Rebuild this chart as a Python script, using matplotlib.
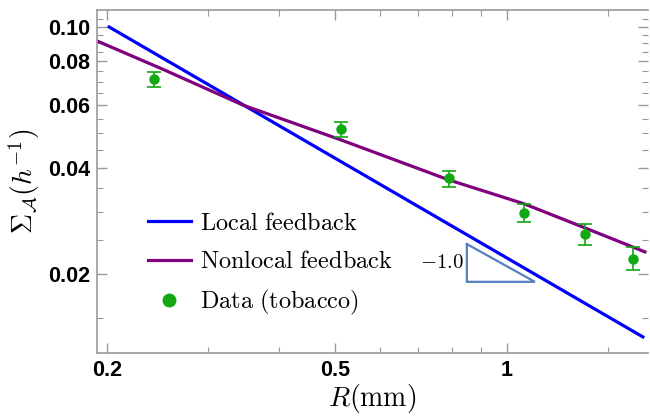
import matplotlib
matplotlib.use("Agg")
import matplotlib.pyplot as plt
from matplotlib.lines import Line2D
from matplotlib.ticker import FixedLocator, NullFormatter

plt.rcParams['mathtext.fontset'] = 'cm'

# data (tobacco) with error bars
r_data = [0.2416, 0.5128, 0.792, 1.071, 1.369, 1.660]
s_data = [0.0713, 0.0514, 0.0374, 0.0298, 0.0260, 0.0221]
s_hi = [0.0746, 0.0538, 0.0391, 0.0316, 0.0277, 0.0238]
s_lo = [0.0676, 0.0488, 0.0353, 0.0281, 0.0242, 0.0205]

# model curves
r_local = [0.2017, 1.728]
s_local = [0.100, 0.01327]
r_nonlocal = [0.1921, 0.25, 0.3457, 0.5128, 0.792, 1.071, 1.369, 1.742]
s_nonlocal = [0.0913, 0.0760, 0.0601, 0.0479, 0.0369, 0.0316, 0.0270, 0.0231]

# slope triangle corners
tri_r = [0.851, 0.851, 1.119, 0.851]
tri_s = [0.0243, 0.0190, 0.0190, 0.0243]

xticks = [0.2, 0.5, 1]
xtick_labels = ['0.2', '0.5', '1']
yticks = [0.02, 0.04, 0.06, 0.08, 0.10]
ytick_labels = ['0.02', '0.04', '0.06', '0.08', '0.10']
xminor = [0.3, 0.4, 0.6, 0.7, 0.8, 0.9, 1.5]
yminor = [0.015, 0.025, 0.03, 0.035, 0.045, 0.05, 0.055, 0.065, 0.07,
          0.075, 0.085, 0.09, 0.095, 0.105]

fig = plt.figure(figsize=(6.5, 4.18), dpi=100)
ax = fig.add_axes([97 / 650, 1 - 353 / 418, 551 / 650, 343 / 418])

green = '#12a812'
ax.plot(r_local, s_local, color='#0000ff', lw=2.3)
ax.plot(r_nonlocal, s_nonlocal, color='#800080', lw=2.3)
yerr = [[s - l for s, l in zip(s_data, s_lo)], [h - s for s, h in zip(s_data, s_hi)]]
ax.errorbar(r_data, s_data, yerr=yerr, fmt='o', color=green, ms=6.5,
            elinewidth=1.2, capsize=5, capthick=1.2)
ax.plot(tri_r, tri_s, color='#5580c0', lw=1.6, solid_joinstyle='miter')
ax.text(0.84, 0.0216, r'$-1.0$', ha='right', va='center', fontsize=15)

ax.set_xscale('log')
ax.set_yscale('log')
ax.set_xlim(0.1921, 1.764)
ax.set_ylim(0.01195, 0.1117)

ax.xaxis.set_major_locator(FixedLocator(xticks))
ax.xaxis.set_minor_locator(FixedLocator(xminor))
ax.yaxis.set_major_locator(FixedLocator(yticks))
ax.yaxis.set_minor_locator(FixedLocator(yminor))
ax.xaxis.set_minor_formatter(NullFormatter())
ax.yaxis.set_minor_formatter(NullFormatter())
ax.set_xticklabels(xtick_labels, fontfamily='Liberation Sans', fontweight='bold', fontsize=15.5)
ax.set_yticklabels(ytick_labels, fontfamily='Liberation Sans', fontweight='bold', fontsize=15.5)

ax.tick_params(which='both', direction='in', color='#999999', top=True, right=True)
ax.tick_params(which='major', length=7, width=1, pad=5)
ax.tick_params(which='minor', length=4, width=0.8)
for side in ['left', 'bottom', 'top']:
    ax.spines[side].set_color('#999999')
    ax.spines[side].set_linewidth(1.2)
ax.spines['right'].set_visible(False)

ax.set_xlabel(r'$R(\mathrm{mm})$', fontsize=20, labelpad=1)
ax.set_ylabel(r'$\Sigma_{\mathcal{A}}(h^{-1})$', fontsize=20, labelpad=4)

handles = [Line2D([], [], color='#0000ff', lw=2.3),
           Line2D([], [], color='#800080', lw=2.3),
           Line2D([], [], color=green, marker='o', ls='', ms=9)]
labels = [r'$\mathrm{Local\ feedback}$', r'$\mathrm{Nonlocal\ feedback}$',
          r'$\mathrm{Data\ (tobacco)}$']
ax.legend(handles, labels, loc='upper left', bbox_to_anchor=(0.0926, 0.415),
          frameon=False, fontsize=17.5, borderpad=0, borderaxespad=0,
          handlelength=1.75, handletextpad=0.4, labelspacing=0.6)

fig.savefig('out.png', dpi=100)
